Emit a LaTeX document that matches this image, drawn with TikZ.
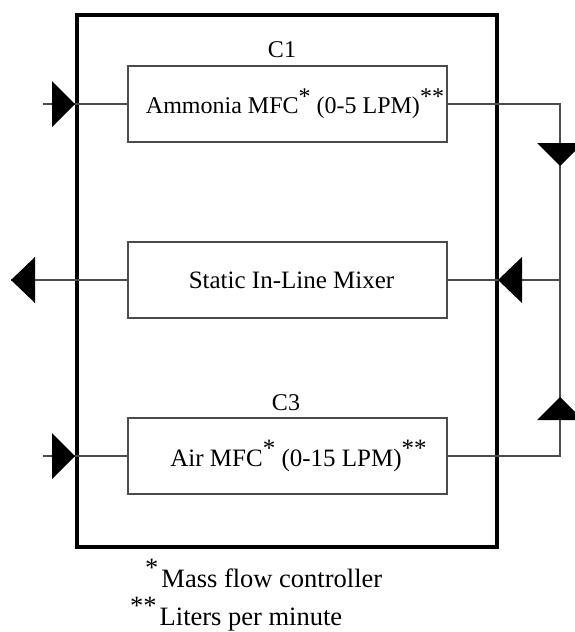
\documentclass[tikz,border=0pt]{standalone}
\usepackage{fontspec}
\setmainfont{Liberation Serif}
% raised full-size asterisks used as footnote marks
\newcommand{\fnmark}[1]{\raisebox{0.38em}{#1}}
\begin{document}
\begin{tikzpicture}[x=1pt,y=-1pt,
  unitbox/.style={draw=black!70, line width=1.4pt, minimum width=319pt, minimum height=76pt,
    inner sep=0pt, font=\fontsize{25}{29}\selectfont},
  pipe/.style={draw=black!70, line width=1.4pt},
  housing/.style={draw=black, line width=4.5pt},
  flowtip/.style={fill=black},
  tag/.style={font=\fontsize{24}{28}\selectfont, inner sep=0pt},
  note/.style={font=\fontsize{26.5}{30}\selectfont, inner sep=0pt, anchor=base west}]
\useasboundingbox (0,0) rectangle (575,632);

% enclosure
\draw[housing] (77,15) rectangle (497,547);

% components
\node[unitbox, font=\fontsize{24}{28}\selectfont] (amm) at (287.5,104)
  {\hspace{15pt}Ammonia MFC\fnmark{*} (0-5 LPM)\fnmark{**}};
\node[unitbox] (mix) at (287.5,280) {\hspace{8pt}Static In-Line Mixer};
\node[unitbox] (air) at (287.5,456) {\hspace{22pt}Air MFC\fnmark{*} (0-15 LPM)\fnmark{**}};

\node[tag] (c1) at (282,50) {C1};
\node[tag] (c3) at (286,403) {C3};

% line end points
\coordinate (ammIn) at (43,104);
\coordinate (airIn) at (43,456);
\coordinate (mixOut) at (11,280);
\coordinate (busT) at (560,104);
\coordinate (busM) at (560,280);
\coordinate (busB) at (560,456);

% piping
\draw[pipe] (ammIn) -- (amm.west);
\draw[pipe] (airIn) -- (air.west);
\draw[pipe] (mix.west) -- (mixOut);
\draw[pipe] (amm.east) -- (busT) -- (busB) -- (air.east);
\draw[pipe] (busM) -- (mix.east);

% flow direction marks
\coordinate (tAmm) at (75,104);
\coordinate (tAir) at (75,456);
\coordinate (tOut) at (11,280);
\coordinate (tMix) at (498,280);
\coordinate (tDown) at (560,166);
\coordinate (tUp) at (560,397);
\fill[flowtip] (tAmm) -- ++(-23,-23) -- ++(0,46) -- cycle;
\fill[flowtip] (tAir) -- ++(-23,-23) -- ++(0,46) -- cycle;
\fill[flowtip] (tOut) -- ++(24,-23) -- ++(0,46) -- cycle;
\fill[flowtip] (tMix) -- ++(24,-23) -- ++(0,46) -- cycle;
\fill[flowtip] (tDown) -- ++(-23,-23) -- ++(46,0) -- cycle;
\fill[flowtip] (tUp) -- ++(-23,23) -- ++(46,0) -- cycle;

% footnotes
\node[note] (fn1) at (145,587) {\fnmark{*}\hspace{3pt}Mass flow controller};
\node[note] (fn2) at (130,625) {\fnmark{**}\hspace{3pt}Liters per minute};
\end{tikzpicture}
\end{document}
